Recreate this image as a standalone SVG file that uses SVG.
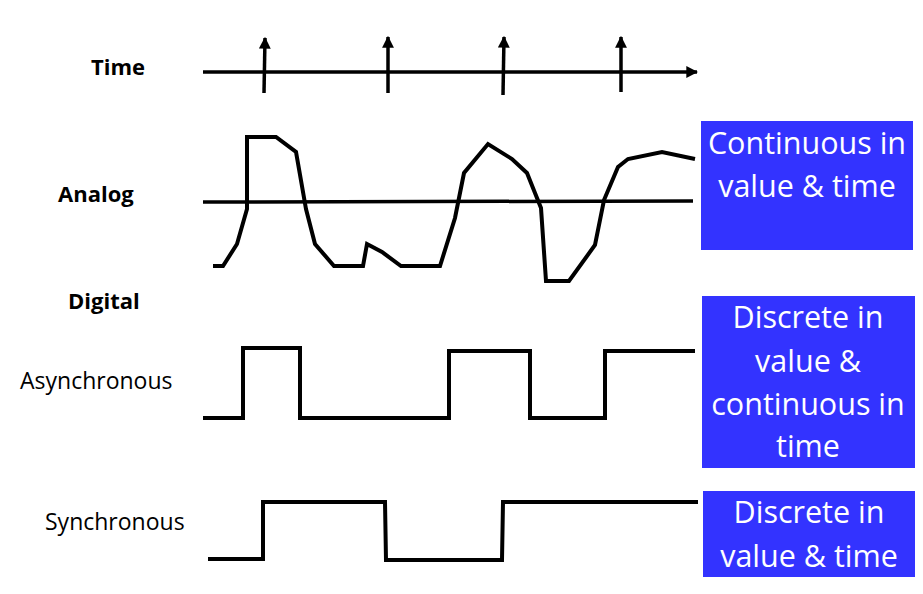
<svg xmlns="http://www.w3.org/2000/svg" width="923" height="594" viewBox="0 0 923 594">
<style>
.lbl{font-family:"Open Sans","Liberation Sans",sans-serif;font-size:22px;fill:#000}
.b{font-weight:bold}
.sig{fill:none;stroke:#000;stroke-width:4;stroke-linejoin:miter}
.ax{fill:none;stroke:#000;stroke-width:3.5}
.box{fill:#3333FF}
.bt{font-family:"Open Sans","Liberation Sans",sans-serif;font-size:30.5px;fill:#fff;text-anchor:middle}
</style>
<defs>
<marker id="ah" viewBox="0 0 10 10" refX="9" refY="5" markerWidth="3.4" markerHeight="3.4" orient="auto" markerUnits="strokeWidth">
<path d="M0,0 L10,5 L0,10 z" fill="#000"/>
</marker>
</defs>
<g id="labels">
<text class="lbl b" x="91" y="75">Time</text>
<text class="lbl b" x="58" y="202">Analog</text>
<text class="lbl b" x="68" y="309">Digital</text>
<text class="lbl" x="20" y="389" style="font-size:23px">Asynchronous</text>
<text class="lbl" x="45" y="530" style="font-size:23px">Synchronous</text>
</g>
<g id="connectors">
<line class="ax" x1="203" y1="72" x2="697" y2="72" marker-end="url(#ah)"/>
<line class="ax" x1="264" y1="93" x2="265" y2="38" marker-end="url(#ah)"/>
<line class="ax" x1="388" y1="93" x2="388" y2="37" marker-end="url(#ah)"/>
<line class="ax" x1="503" y1="95" x2="504" y2="37" marker-end="url(#ah)"/>
<line class="ax" x1="621" y1="92" x2="621" y2="37" marker-end="url(#ah)"/>
<line class="ax" x1="203" y1="202" x2="693" y2="201"/>
</g>
<g id="analog">
<polyline class="sig" points="213,266 223,266 237,244 247,209 247,137 276,137 296,152 306,209 315,244 334,266 363,266 367,244 382,252 401,266 440,266 455,218 464,173 488,144 512,159 527,173 535,193 541,208 546,281 569,281 595,245 604,200 618,167 628,159 662,152 695,159"/>
</g>
<g id="async">
<polyline class="sig" points="203,418 243,418 243,348 300,348 300,418 449,418 449,351 530,351 530,418 605,418 605,351 695,351"/>
</g>
<g id="sync">
<polyline class="sig" points="208,559 263,559 263,502 385,502 386,560 502,560 503,502 698,502"/>
</g>
<g id="box1">
<rect class="box" x="701" y="121" width="212" height="129"/>
<text class="bt" x="807" y="154">Continuous in</text>
<text class="bt" x="807" y="197">value &amp; time</text>
</g>
<g id="box2">
<rect class="box" x="702" y="296" width="213" height="172"/>
<text class="bt" x="808" y="328">Discrete in</text>
<text class="bt" x="808" y="372">value &amp;</text>
<text class="bt" x="808" y="415">continuous in</text>
<text class="bt" x="808" y="457">time</text>
</g>
<g id="box3">
<rect class="box" x="703" y="491" width="212" height="86"/>
<text class="bt" x="809" y="523">Discrete in</text>
<text class="bt" x="809" y="567">value &amp; time</text>
</g>
</svg>
